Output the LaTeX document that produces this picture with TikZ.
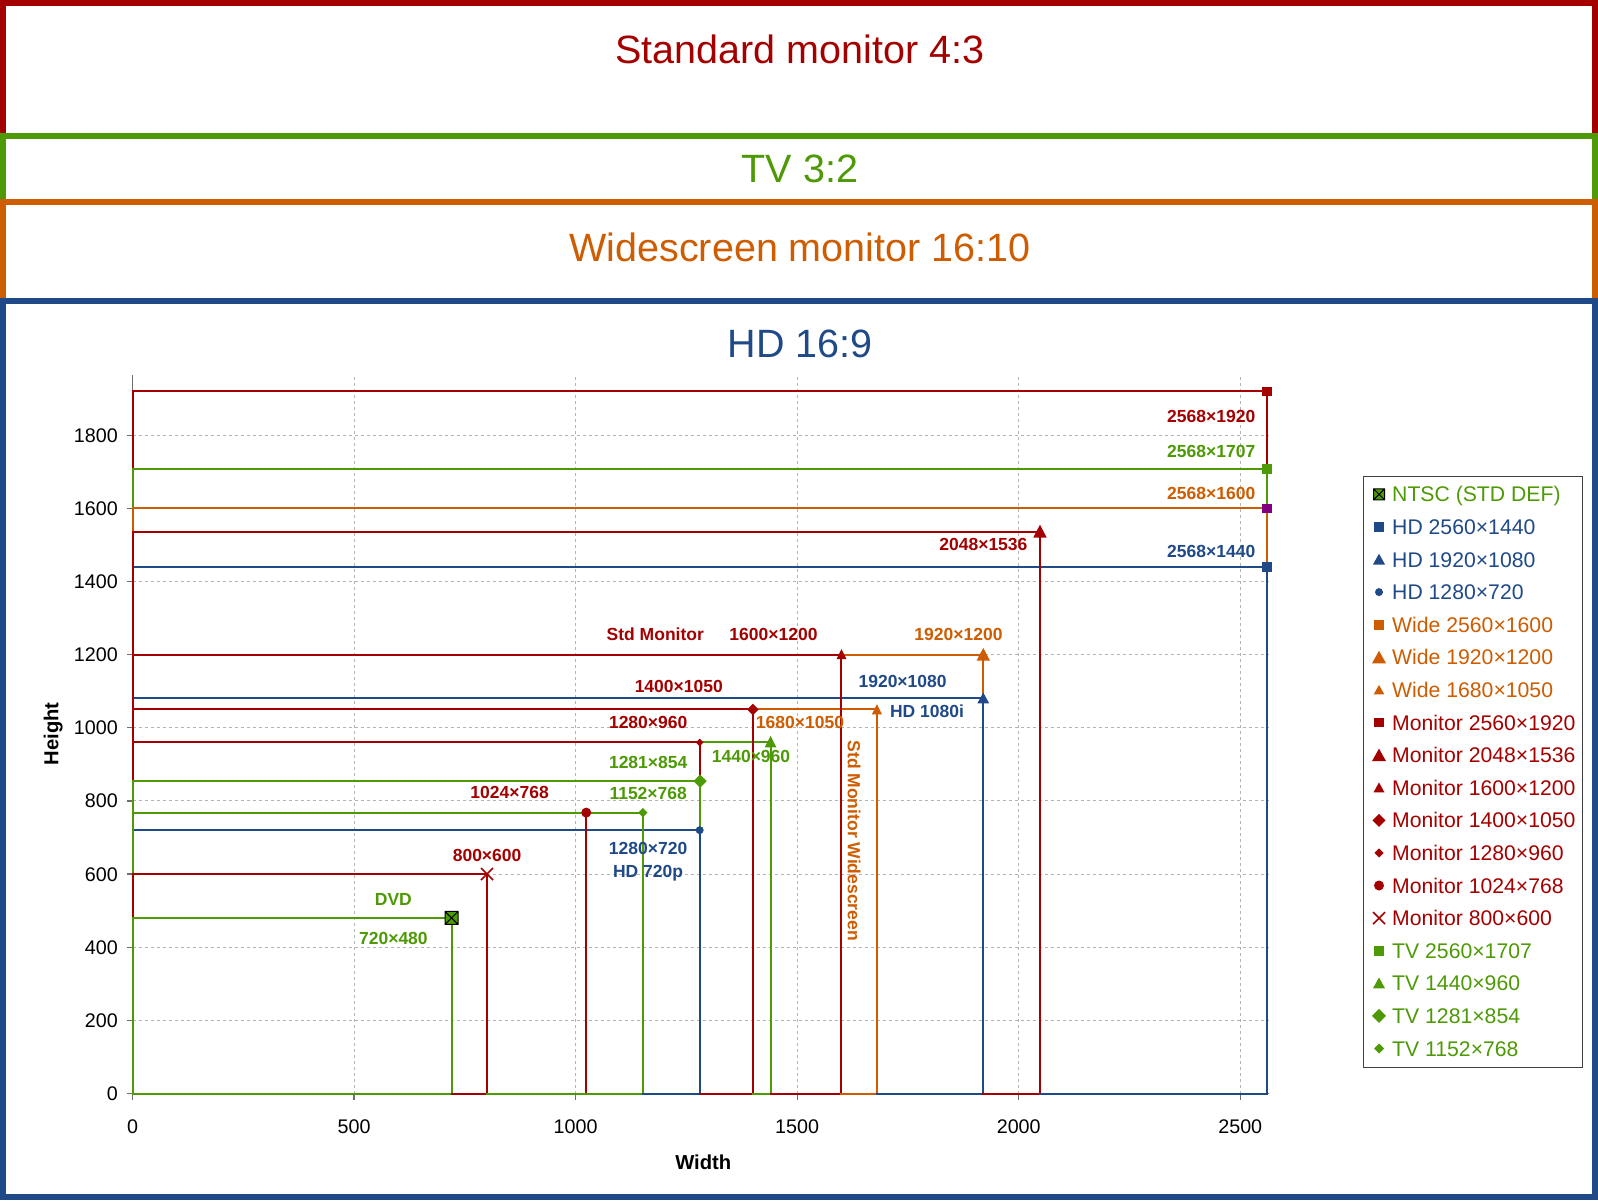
\documentclass[tikz,border=0pt]{standalone}
\usepackage{fontspec}
\setmainfont{Liberation Sans}
\definecolor{cR}{HTML}{A40000}
\definecolor{cG}{HTML}{4E9A06}
\definecolor{cO}{HTML}{CE5C00}
\definecolor{cB}{HTML}{204A87}
\definecolor{cP}{HTML}{800080}
\definecolor{cGrid}{HTML}{B3B3B3}
\definecolor{cAxis}{HTML}{6E6E6E}
\newcommand\MSq[3]{\fill[#1,shift={(#2)}] (-#3pt,-#3pt) rectangle (#3pt,#3pt);}
\newcommand\MTri[5]{\fill[#1,shift={(#2)}] (0pt,#4pt) -- (-#3pt,-#5pt) -- (#3pt,-#5pt) -- cycle;}
\newcommand\MDia[3]{\fill[#1,shift={(#2)}] (0pt,#3pt) -- (#3pt,0pt) -- (0pt,-#3pt) -- (-#3pt,0pt) -- cycle;}
\newcommand\MCirc[3]{\fill[#1,shift={(#2)}] (0pt,0pt) circle[radius=#3pt];}
\newcommand\MX[3]{\draw[#1,line width=1.6pt,shift={(#2)}] (-#3pt,-#3pt) -- (#3pt,#3pt) (-#3pt,#3pt) -- (#3pt,-#3pt);}
\newcommand\MNtsc[2]{\draw[fill=cG,draw=black,line width=1pt,shift={(#1)}] (-#2pt,-#2pt) rectangle (#2pt,#2pt) (-#2pt,-#2pt) -- (#2pt,#2pt) (-#2pt,#2pt) -- (#2pt,-#2pt);}
\newcommand\Seg[3]{\draw[sr,#1] (#2) -- (#3);}
\begin{document}
\begin{tikzpicture}[x=1pt,y=-1pt,
  sr/.style={line width=2pt,line cap=rect},
  ttl/.style={inner sep=0pt,font=\fontsize{39.5}{44}\selectfont,text height=28.3pt,text depth=0pt},
  lbl/.style={inner sep=0pt,font=\fontsize{17.5}{20}\selectfont\bfseries,text height=12.5pt,text depth=0pt},
  tck/.style={inner sep=0pt,font=\fontsize{19.7}{22}\selectfont,text height=14.1pt,text depth=0pt},
  axt/.style={inner sep=0pt,font=\fontsize{20.2}{23}\selectfont\bfseries,text height=14.5pt,text depth=0pt},
  leg/.style={inner sep=0pt,anchor=west,font=\fontsize{21.2}{24}\selectfont,text height=15.2pt,text depth=0pt},
  gridl/.style={cGrid,line width=1pt,dash pattern=on 3pt off 3pt},
  axisl/.style={cAxis,line width=1.2pt}]
\useasboundingbox (0,0) rectangle (1598,1200);
% frames
\draw[line width=6pt,cR,fill=white] (3,3) rectangle (1595,1197);
\draw[line width=6pt,cG,fill=white] (3,136) rectangle (1595,1197);
\draw[line width=6pt,cO,fill=white] (3,202) rectangle (1595,1197);
\draw[line width=6pt,cB,fill=white] (3,301) rectangle (1595,1197);
\node[ttl,cR] (t1) at (800,48.9) {Standard monitor 4:3};
\node[ttl,cG] (t2) at (800,168) {TV 3:2};
\node[ttl,cO] (t3) at (800,247.6) {Widescreen monitor 16:10};
\node[ttl,cB] (t4) at (800,343.4) {HD 16:9};
% plot
\begin{scope}[shift={(132.5pt,-1093.5pt)},x=0.4431pt,y=0.36576pt]
  \foreach \v in {500,1000,...,2500} \draw[gridl] (\v,0) -- (\v,1964);
  \foreach \v in {200,400,...,1800} \draw[gridl] (0,\v) -- (2565,\v);
  \draw[axisl] (0,0) -- (0,1964);
  \draw[axisl] (0,0) -- (2565,0);
  \foreach \v in {0,200,...,1800} {
    \draw[axisl] (0,\v) -- ++(-6pt,0pt);
    \node[tck,anchor=east,xshift=-14.5pt] (yl\v) at (0,\v) {\v};
  }
  \foreach \v in {0,500,...,2500} {
    \draw[axisl] (\v,0) -- ++(0pt,-6pt);
    \node[tck,yshift=-32.5pt] (xl\v) at (\v,0) {\v};
  }
  % horizontal lines
  \Seg{cR}{0,1920}{2560,1920}
  \Seg{cG}{0,1707}{2560,1707}
  \Seg{cO}{0,1600}{2560,1600}
  \Seg{cR}{0,1536}{2048,1536}
  \Seg{cB}{0,1440}{2560,1440}
  \Seg{cO}{1600,1200}{1920,1200}
  \Seg{cR}{0,1200}{1600,1200}
  \Seg{cB}{0,1080}{1920,1080}
  \Seg{cO}{1400,1050}{1680,1050}
  \Seg{cR}{0,1050}{1400,1050}
  \Seg{cG}{1280,960}{1440,960}
  \Seg{cR}{0,960}{1280,960}
  \Seg{cG}{0,854}{1281,854}
  \Seg{cG}{0,768}{1152,768}
  \Seg{cB}{0,720}{1280,720}
  \Seg{cR}{0,600}{800,600}
  \Seg{cG}{0,480}{720,480}
  % vertical lines
  \Seg{cR}{2560,1920}{2560,1707}
  \Seg{cG}{2560,1707}{2560,1600}
  \Seg{cO}{2560,1600}{2560,1440}
  \Seg{cB}{2560,1440}{2560,0}
  \Seg{cR}{2048,1536}{2048,0}
  \Seg{cO}{1920,1200}{1920,1080}
  \Seg{cB}{1920,1080}{1920,0}
  \Seg{cO}{1680,1050}{1680,0}
  \Seg{cR}{1600,1200}{1600,0}
  \Seg{cG}{1440,960}{1440,0}
  \Seg{cR}{1400,1050}{1400,0}
  \Seg{cR}{1280,960}{1280,854}
  \Seg{cG}{1280,854}{1280,720}
  \Seg{cB}{1280,720}{1280,0}
  \Seg{cG}{1152,768}{1152,0}
  \Seg{cR}{1024,768}{1024,0}
  \Seg{cR}{800,600}{800,0}
  \Seg{cG}{720,480}{720,0}
  % bottom line
  \Seg{cG}{0,0}{720,0}
  \Seg{cR}{720,0}{800,0}
  \Seg{cG}{800,0}{1152,0}
  \Seg{cB}{1152,0}{1280,0}
  \Seg{cR}{1280,0}{1400,0}
  \Seg{cG}{1400,0}{1440,0}
  \Seg{cR}{1440,0}{1600,0}
  \Seg{cO}{1600,0}{1680,0}
  \Seg{cB}{1680,0}{1920,0}
  \Seg{cR}{1920,0}{2048,0}
  \Seg{cB}{2048,0}{2560,0}
  % left line
  \Seg{cR}{0,1920}{0,1707}
  \Seg{cG}{0,1707}{0,1600}
  \Seg{cO}{0,1600}{0,1536}
  \Seg{cR}{0,1536}{0,854}
  \Seg{cG}{0,854}{0,600}
  \Seg{cR}{0,600}{0,480}
  \Seg{cG}{0,480}{0,0}
  % markers
  \MSq{cR}{2560,1920}{4.7}
  \MSq{cG}{2560,1707}{4.7}
  \MSq{cP}{2560,1600}{4.7}
  \MSq{cB}{2560,1440}{4.7}
  \MTri{cR}{2048,1536}{6.7}{7}{5.8}
  \MTri{cR}{1600,1200}{5}{5.5}{4.5}
  \MTri{cO}{1920,1200}{6.7}{6.7}{6}
  \MTri{cB}{1920,1080}{6}{6}{5}
  \MTri{cO}{1680,1050}{5}{5.2}{4.8}
  \MTri{cG}{1440,960}{5.8}{6.5}{5}
  \MDia{cR}{1400,1050}{5.8}
  \MDia{cR}{1280,960}{3.8}
  \MDia{cG}{1281,854}{6.7}
  \MDia{cG}{1152,768}{4.6}
  \MCirc{cR}{1024,768}{5}
  \MCirc{cB}{1280,720}{4}
  \MX{cR}{800,600}{6}
  \MNtsc{720,480}{6.5}
\end{scope}
% data labels
\node[lbl,cR,anchor=east] (l1) at (1255.5,415.8) {2568×1920};
\node[lbl,cG,anchor=east] (l2) at (1255.5,451.5) {2568×1707};
\node[lbl,cO,anchor=east] (l3) at (1255.5,493.2) {2568×1600};
\node[lbl,cB,anchor=east] (l4) at (1255.5,551.3) {2568×1440};
\node[lbl,cR] (l5) at (983.4,544.2) {2048×1536};
\node[lbl,cR] (l6) at (655.3,634.5) {Std Monitor};
\node[lbl,cR] (l7) at (773.5,634.5) {1600×1200};
\node[lbl,cO] (l8) at (958.5,634.5) {1920×1200};
\node[lbl,cB] (l9) at (902.6,681.2) {1920×1080};
\node[lbl,cB] (l10) at (927,711) {HD 1080i};
\node[lbl,cR] (l11) at (678.8,686.3) {1400×1050};
\node[lbl,cR] (l12) at (648.2,722) {1280×960};
\node[lbl,cO] (l13) at (800,722) {1680×1050};
\node[lbl,cG] (l14) at (648.2,762) {1281×854};
\node[lbl,cG] (l15) at (751,756) {1440×960};
\node[lbl,cG] (l16) at (648.2,793) {1152×768};
\node[lbl,cR] (l17) at (509.6,792) {1024×768};
\node[lbl,cB] (l18) at (648.1,848) {1280×720};
\node[lbl,cB] (l19) at (648.1,871.5) {HD 720p};
\node[lbl,cR] (l20) at (487.1,855) {800×600};
\node[lbl,cG] (l21) at (393.4,898.8) {DVD};
\node[lbl,cG] (l22) at (393.4,938.6) {720×480};
\node[lbl,cO,rotate=-90] (l23) at (854,840.7) {Std Monitor Widescreen};
% axis titles
\node[axt] (xt) at (703.2,1161.8) {Width};
\node[axt,rotate=90] (yt) at (51,733.8) {Height};
% legend
\draw[line width=1pt,draw=black!75,fill=white] (1363.5,476) rectangle (1582.6,1067);
\MNtsc{1379,494.3}{5.5}
\node[leg,cG] (lg0) at (1392,494.3) {NTSC (STD DEF)};
\MSq{cB}{1379,526.9}{4.8}
\node[leg,cB] (lg1) at (1392,526.9) {HD 2560×1440};
\MTri{cB}{1379,559.5}{6}{5.8}{5}
\node[leg,cB] (lg2) at (1392,559.5) {HD 1920×1080};
\MCirc{cB}{1379,592.1}{4}
\node[leg,cB] (lg3) at (1392,592.1) {HD 1280×720};
\MSq{cO}{1379,624.7}{4.8}
\node[leg,cO] (lg4) at (1392,624.7) {Wide 2560×1600};
\MTri{cO}{1379,657.3}{7}{6.5}{6}
\node[leg,cO] (lg5) at (1392,657.3) {Wide 1920×1200};
\MTri{cO}{1379,689.9}{5.3}{5}{4.5}
\node[leg,cO] (lg6) at (1392,689.9) {Wide 1680×1050};
\MSq{cR}{1379,722.5}{4.8}
\node[leg,cR] (lg7) at (1392,722.5) {Monitor 2560×1920};
\MTri{cR}{1379,755.1}{7}{6.5}{6}
\node[leg,cR] (lg8) at (1392,755.1) {Monitor 2048×1536};
\MTri{cR}{1379,787.7}{5.5}{5.3}{4.7}
\node[leg,cR] (lg9) at (1392,787.7) {Monitor 1600×1200};
\MDia{cR}{1379,820.3}{6.5}
\node[leg,cR] (lg10) at (1392,820.3) {Monitor 1400×1050};
\MDia{cR}{1379,852.9}{4.6}
\node[leg,cR] (lg11) at (1392,852.9) {Monitor 1280×960};
\MCirc{cR}{1379,885.5}{5}
\node[leg,cR] (lg12) at (1392,885.5) {Monitor 1024×768};
\MX{cR}{1379,918.1}{6}
\node[leg,cR] (lg13) at (1392,918.1) {Monitor 800×600};
\MSq{cG}{1379,950.7}{4.8}
\node[leg,cG] (lg14) at (1392,950.7) {TV 2560×1707};
\MTri{cG}{1379,983.3}{6}{5.8}{5}
\node[leg,cG] (lg15) at (1392,983.3) {TV 1440×960};
\MDia{cG}{1379,1015.9}{7}
\node[leg,cG] (lg16) at (1392,1015.9) {TV 1281×854};
\MDia{cG}{1379,1048.5}{5}
\node[leg,cG] (lg17) at (1392,1048.5) {TV 1152×768};
\end{tikzpicture}
\end{document}
